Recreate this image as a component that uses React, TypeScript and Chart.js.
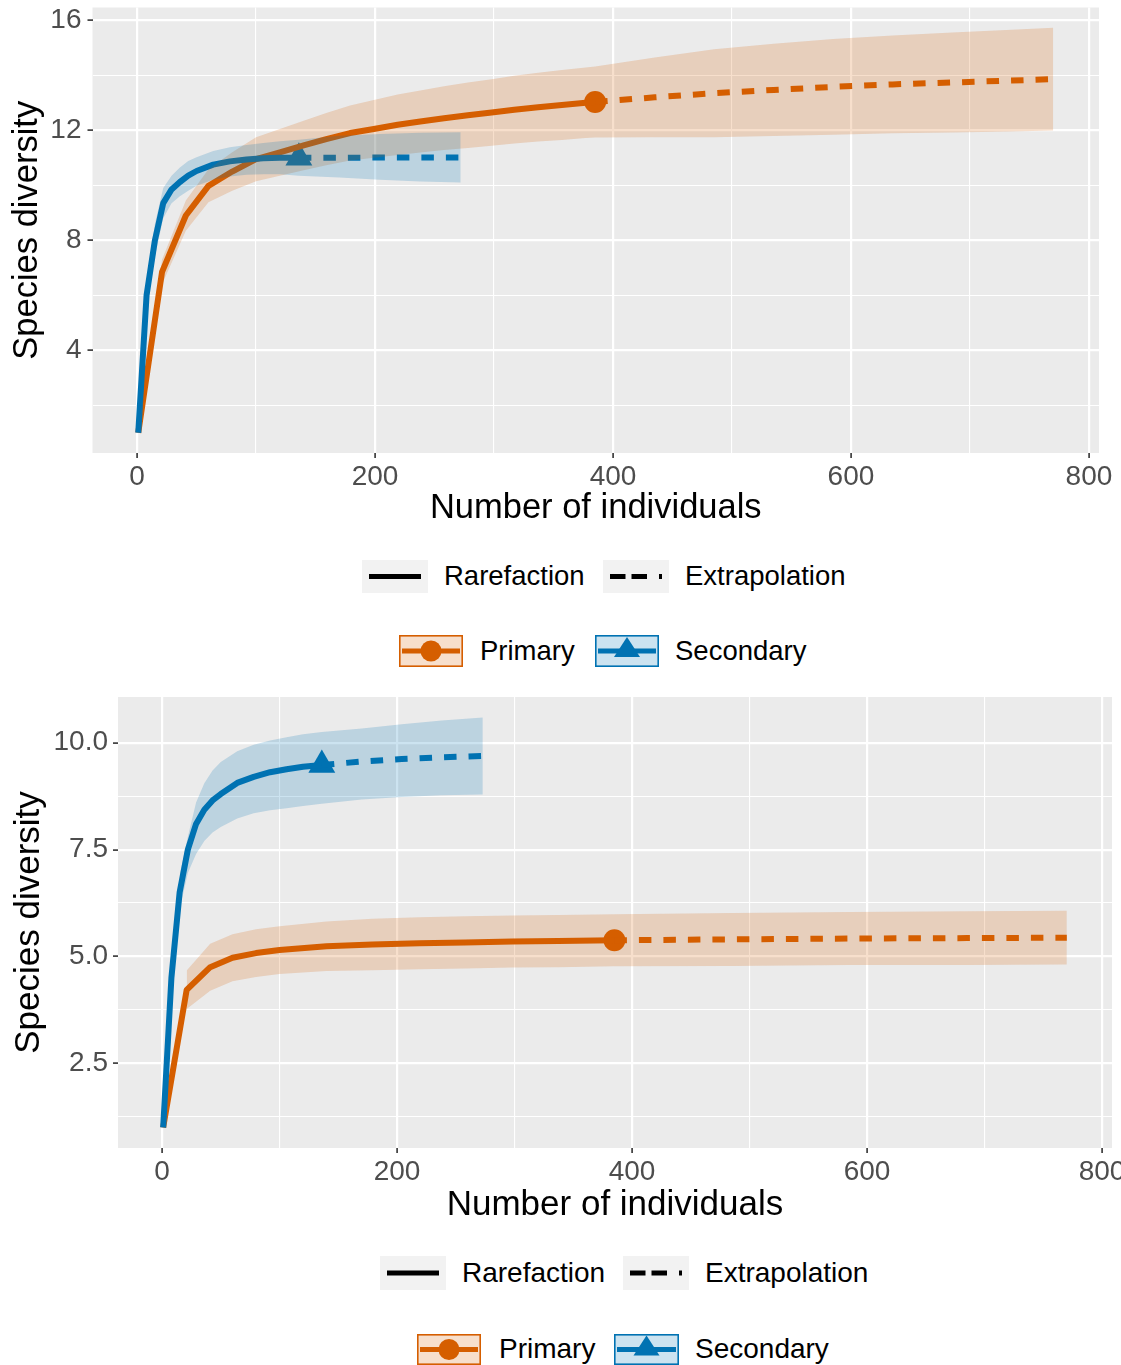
import React, { useEffect, useRef } from "react";
import { Chart, registerables } from "chart.js";

Chart.register(...registerables);

const FONT = '"Liberation Sans", Arial, Helvetica, sans-serif';
const PRIMARY = "#D55E00";
const SECONDARY = "#0072B2";
const PRIMARY_BAND = "rgba(213,94,0,0.2)";
const SECONDARY_BAND = "rgba(0,114,178,0.2)";

// ---------- Axis ticks ----------
const xTicks = [0, 100, 200, 300, 400, 500, 600, 700, 800];
const xMajor = [0, 200, 400, 600, 800];
const topYTicks = [2, 4, 6, 8, 10, 12, 14, 16];
const topYMajor = [4, 8, 12, 16];
const botYTicks = [1.25, 2.5, 3.75, 5, 6.25, 7.5, 8.75, 10];
const botYMajor = [2.5, 5, 7.5, 10];

// ---------- Top chart: Primary ----------
const topPrimaryRareX = [1, 21, 41, 60, 80, 100, 120, 140, 159, 179, 199, 219, 238, 258, 278, 298, 317, 337, 357, 377, 385];
const topPrimaryRareY = [1, 6.85, 8.9, 9.98, 10.5, 10.95, 11.2, 11.45, 11.68, 11.9, 12.05, 12.2, 12.32, 12.44, 12.55, 12.65, 12.75, 12.84, 12.92, 13.0, 13.03];
const topPrimaryExtX = [385, 435, 485, 535, 585, 635, 685, 735, 770];
const topPrimaryExtY = [13.03, 13.2, 13.35, 13.47, 13.58, 13.67, 13.74, 13.81, 13.86];
const topPrimaryBandX = [1, 21, 41, 60, 80, 100, 120, 140, 159, 179, 199, 219, 238, 258, 278, 298, 317, 337, 357, 377, 385, 435, 485, 535, 585, 635, 685, 735, 770];
const topPrimaryBandHi = [1, 7.3, 9.45, 10.58, 11.2, 11.75, 12.05, 12.35, 12.63, 12.9, 13.1, 13.3, 13.45, 13.6, 13.74, 13.86, 13.98, 14.09, 14.19, 14.28, 14.32, 14.65, 14.95, 15.15, 15.32, 15.45, 15.56, 15.66, 15.73];
const topPrimaryBandLo = [1, 6.4, 8.35, 9.38, 9.8, 10.15, 10.35, 10.55, 10.73, 10.9, 11.0, 11.1, 11.19, 11.28, 11.36, 11.44, 11.52, 11.59, 11.65, 11.72, 11.74, 11.75, 11.75, 11.79, 11.84, 11.89, 11.92, 11.96, 11.99];

// ---------- Top chart: Secondary ----------
const topSecondaryRareX = [1, 8, 15, 22, 29, 36, 43, 50, 64, 78, 92, 106, 120, 136];
const topSecondaryRareY = [1, 6.0, 8.0, 9.35, 9.85, 10.12, 10.35, 10.52, 10.75, 10.87, 10.94, 10.98, 11.0, 11.0];
const topSecondaryExtX = [136, 170, 204, 238, 272];
const topSecondaryExtY = [11.0, 11.0, 11.01, 11.01, 11.01];
const topSecondaryBandX = [1, 8, 15, 22, 29, 36, 43, 50, 64, 78, 92, 106, 120, 136, 170, 204, 238, 272];
const topSecondaryBandHi = [1, 6.5, 8.6, 9.9, 10.35, 10.65, 10.88, 11.02, 11.25, 11.38, 11.47, 11.54, 11.6, 11.66, 11.8, 11.87, 11.91, 11.93];
const topSecondaryBandLo = [1, 5.5, 7.4, 8.8, 9.35, 9.6, 9.8, 9.98, 10.2, 10.32, 10.38, 10.4, 10.4, 10.35, 10.28, 10.2, 10.14, 10.1];

// ---------- Bottom chart: Primary ----------
const botPrimaryRareX = [1, 21, 41, 60, 80, 100, 140, 179, 219, 258, 298, 337, 385];
const botPrimaryRareY = [1, 4.22, 4.75, 4.97, 5.08, 5.15, 5.24, 5.28, 5.31, 5.33, 5.35, 5.36, 5.38];
const botPrimaryExtX = [385, 485, 585, 685, 770];
const botPrimaryExtY = [5.38, 5.4, 5.42, 5.43, 5.44];
const botPrimaryBandX = [21, 41, 60, 80, 100, 140, 179, 219, 258, 298, 337, 385, 485, 585, 685, 770];
const botPrimaryBandHi = [4.67, 5.3, 5.52, 5.64, 5.71, 5.82, 5.88, 5.92, 5.94, 5.96, 5.97, 5.99, 6.02, 6.04, 6.06, 6.07];
const botPrimaryBandLo = [3.77, 4.2, 4.42, 4.52, 4.59, 4.66, 4.68, 4.7, 4.72, 4.74, 4.75, 4.77, 4.78, 4.8, 4.8, 4.81];

// ---------- Bottom chart: Secondary ----------
const botSecondaryRareX = [1, 8, 15, 22, 29, 36, 43, 50, 64, 78, 92, 106, 120, 136];
const botSecondaryRareY = [1, 4.5, 6.5, 7.5, 8.1, 8.43, 8.65, 8.8, 9.06, 9.2, 9.31, 9.38, 9.44, 9.48];
const botSecondaryExtX = [136, 170, 204, 238, 273];
const botSecondaryExtY = [9.48, 9.56, 9.62, 9.66, 9.69];
const botSecondaryBandX = [15, 22, 29, 36, 43, 50, 64, 78, 92, 106, 120, 136, 170, 204, 238, 273];
const botSecondaryBandHi = [6.9, 7.8, 8.6, 9.05, 9.35, 9.55, 9.8, 9.95, 10.05, 10.13, 10.2, 10.25, 10.33, 10.43, 10.52, 10.59];
const botSecondaryBandLo = [6.1, 6.95, 7.4, 7.7, 7.9, 8.03, 8.23, 8.35, 8.42, 8.47, 8.52, 8.57, 8.67, 8.73, 8.77, 8.79];

type Series = {
  rareX: number[]; rareY: number[]; extX: number[]; extY: number[];
  bandX: number[]; bandHi: number[]; bandLo: number[];
};

const pts = (xs: number[], ys: number[]) => xs.map((x, i) => ({ x, y: ys[i] }));

function expandRange(vals: number[]) {
  const mn = Math.min(...vals);
  const mx = Math.max(...vals);
  const pad = (mx - mn) * 0.05;
  return [mn - pad, mx + pad];
}

type PanelSpec = {
  width: number; height: number;
  padTop: number; padRight: number;
  yAxisWidth: number; xAxisHeight: number;
  primary: Series; secondary: Series;
  yTicks: number[]; yMajor: number[]; yFmt: (v: number) => string;
  tickSize: number; titleSize: number;
  yTickPad: number; yTitlePad: number; xTitlePad: number;
};

function buildConfig(s: PanelSpec): any {
  const p = s.primary, q = s.secondary;
  const allX = [...p.bandX, ...p.rareX, ...p.extX, ...q.bandX, ...q.rareX, ...q.extX];
  const allY = [...p.bandHi, ...p.bandLo, ...p.rareY, ...p.extY, ...q.bandHi, ...q.bandLo, ...q.rareY, ...q.extY];
  const [xMin, xMax] = expandRange(allX);
  const [yMin, yMax] = expandRange(allY);

  const band = (data: any[], color: string, fill: any) => ({
    data, borderColor: "rgba(0,0,0,0)", borderWidth: 0, pointRadius: 0,
    backgroundColor: color, fill, tension: 0,
  });
  const line = (data: any[], color: string, dashed: boolean) => ({
    data, borderColor: color, borderWidth: 6, borderDash: dashed ? [12.5, 12] : [],
    borderCapStyle: "butt", borderJoinStyle: "round", pointRadius: 0, fill: false, tension: 0,
  });
  const marker = (x: number, y: number, color: string, style: string, r: number) => ({
    data: [{ x, y }], showLine: false, pointStyle: style, pointRadius: r,
    pointBackgroundColor: color, pointBorderColor: color, pointBorderWidth: 0,
    borderColor: color, backgroundColor: color, fill: false,
  });

  const datasets = [
    band(pts(q.bandX, q.bandLo), SECONDARY_BAND, false),
    band(pts(q.bandX, q.bandHi), SECONDARY_BAND, "-1"),
    band(pts(p.bandX, p.bandLo), PRIMARY_BAND, false),
    band(pts(p.bandX, p.bandHi), PRIMARY_BAND, "-1"),
    line(pts(q.extX, q.extY), SECONDARY, true),
    line(pts(q.rareX, q.rareY), SECONDARY, false),
    line(pts(p.extX, p.extY), PRIMARY, true),
    line(pts(p.rareX, p.rareY), PRIMARY, false),
    marker(q.rareX[q.rareX.length - 1], q.rareY[q.rareY.length - 1], SECONDARY, "triangle", 15.5),
    marker(p.rareX[p.rareX.length - 1], p.rareY[p.rareY.length - 1], PRIMARY, "circle", 11),
  ];

  const isMajor = (list: number[], v: number) => list.some((m) => Math.abs(m - v) < 1e-9);

  const panelBg = {
    id: "panelBg",
    beforeDraw(chart: any) {
      const { ctx, chartArea } = chart;
      ctx.save();
      ctx.fillStyle = "#EBEBEB";
      ctx.fillRect(chartArea.left, chartArea.top, chartArea.right - chartArea.left, chartArea.bottom - chartArea.top);
      ctx.restore();
    },
  };

  return {
    type: "line",
    data: { datasets },
    plugins: [panelBg],
    options: {
      responsive: false,
      animation: false,
      events: [],
      devicePixelRatio: 1,
      layout: { autoPadding: false, padding: { top: s.padTop, right: s.padRight, left: 0, bottom: 0 } },
      plugins: { legend: { display: false }, tooltip: { enabled: false }, title: { display: false } },
      scales: {
        x: {
          type: "linear", min: xMin, max: xMax,
          afterBuildTicks: (a: any) => { a.ticks = xTicks.map((v) => ({ value: v })); },
          afterFit: (a: any) => { a.height = s.xAxisHeight; a.paddingLeft = 0; a.paddingRight = 0; },
          border: { display: false },
          grid: {
            color: "#FFFFFF",
            lineWidth: (c: any) => (c.tick && isMajor(xMajor, c.tick.value) ? 2.2 : 1.1),
            drawTicks: true, tickLength: 5,
            tickColor: (c: any) => (c.tick && isMajor(xMajor, c.tick.value) ? "#333333" : "rgba(0,0,0,0)"),
            tickWidth: 1.6,
          },
          ticks: {
            autoSkip: false, maxRotation: 0, minRotation: 0, padding: 2, color: "#4D4D4D",
            font: { family: FONT, size: s.tickSize },
            callback: (v: any) => (isMajor(xMajor, Number(v)) ? String(v) : ""),
          },
          title: {
            display: true, text: "Number of individuals", color: "#000000",
            font: { family: FONT, size: s.titleSize }, padding: { top: 0, bottom: s.xTitlePad },
          },
        },
        y: {
          type: "linear", min: yMin, max: yMax,
          afterBuildTicks: (a: any) => { a.ticks = s.yTicks.map((v) => ({ value: v })); },
          afterFit: (a: any) => { a.width = s.yAxisWidth; a.paddingTop = 0; a.paddingBottom = 0; },
          border: { display: false },
          grid: {
            color: "#FFFFFF",
            lineWidth: (c: any) => (c.tick && isMajor(s.yMajor, c.tick.value) ? 2.2 : 1.1),
            drawTicks: true, tickLength: 5,
            tickColor: (c: any) => (c.tick && isMajor(s.yMajor, c.tick.value) ? "#333333" : "rgba(0,0,0,0)"),
            tickWidth: 1.6,
          },
          ticks: {
            autoSkip: false, padding: s.yTickPad, color: "#4D4D4D",
            font: { family: FONT, size: s.tickSize },
            callback: (v: any) => (isMajor(s.yMajor, Number(v)) ? s.yFmt(Number(v)) : ""),
          },
          title: {
            display: true, text: "Species diversity", color: "#000000",
            font: { family: FONT, size: s.titleSize }, padding: { top: s.yTitlePad, bottom: 0 },
          },
        },
      },
    },
  };
}

function Panel({ spec, top }: { spec: PanelSpec; top: number }) {
  const ref = useRef<HTMLCanvasElement | null>(null);
  useEffect(() => {
    if (!ref.current) return;
    const chart = new Chart(ref.current, buildConfig(spec));
    return () => chart.destroy();
  }, []);
  return (
    <div style={{ position: "absolute", left: 0, top, width: spec.width, height: spec.height }}>
      <canvas ref={ref} width={spec.width} height={spec.height} style={{ display: "block" }} />
    </div>
  );
}

function Key({ left, cy, w, h, kind }: { left: number; cy: number; w: number; h: number; kind: string }) {
  const mid = h / 2;
  let body: any = null;
  if (kind === "solid") {
    body = (
      <>
        <rect x={0} y={0} width={w} height={h} fill="#F2F2F2" />
        <rect x={7} y={mid - 2.5} width={w - 14} height={5} fill="#000" />
      </>
    );
  } else if (kind === "dashed") {
    body = (
      <>
        <rect x={0} y={0} width={w} height={h} fill="#F2F2F2" />
        <rect x={7} y={mid - 2.5} width={15.5} height={5} fill="#000" />
        <rect x={28.5} y={mid - 2.5} width={15.5} height={5} fill="#000" />
        <rect x={56} y={mid - 2.5} width={3} height={5} fill="#000" />
      </>
    );
  } else {
    const color = kind === "primary" ? PRIMARY : SECONDARY;
    const fill = kind === "primary" ? PRIMARY_BAND : SECONDARY_BAND;
    const cx = w / 2;
    body = (
      <>
        <rect x={0} y={0} width={w} height={h} fill="#FFFFFF" />
        <rect x={3} y={mid - 2.5} width={w - 6} height={5} fill={color} />
        {kind === "primary" ? (
          <circle cx={cx} cy={mid} r={10.5} fill={color} />
        ) : (
          <polygon points={`${cx},${mid - 14} ${cx - 13},${mid + 6} ${cx + 13},${mid + 6}`} fill={color} />
        )}
        <rect x={0.8} y={0.8} width={w - 1.6} height={h - 1.6} fill={fill} stroke={color} strokeWidth={1.6} />
      </>
    );
  }
  return (
    <svg style={{ position: "absolute", left, top: cy - h / 2 }} width={w} height={h}>
      {body}
    </svg>
  );
}

function Label({ left, cy, text, size }: { left: number; cy: number; text: string; size: number }) {
  return (
    <div
      style={{
        position: "absolute", left, top: cy - 17, height: 34, lineHeight: "34px",
        fontSize: size, fontFamily: FONT, color: "#000", whiteSpace: "nowrap",
      }}
    >
      {text}
    </div>
  );
}

const topSpec: PanelSpec = {
  width: 1121, height: 530, padTop: 7.5, padRight: 22,
  yAxisWidth: 92.5, xAxisHeight: 77,
  primary: { rareX: topPrimaryRareX, rareY: topPrimaryRareY, extX: topPrimaryExtX, extY: topPrimaryExtY, bandX: topPrimaryBandX, bandHi: topPrimaryBandHi, bandLo: topPrimaryBandLo },
  secondary: { rareX: topSecondaryRareX, rareY: topSecondaryRareY, extX: topSecondaryExtX, extY: topSecondaryExtY, bandX: topSecondaryBandX, bandHi: topSecondaryBandHi, bandLo: topSecondaryBandLo },
  yTicks: topYTicks, yMajor: topYMajor, yFmt: (v) => String(v),
  tickSize: 28, titleSize: 34.5, yTickPad: 6, yTitlePad: 7, xTitlePad: 1,
};

const botSpec: PanelSpec = {
  width: 1121, height: 540, padTop: 7, padRight: 9,
  yAxisWidth: 118, xAxisHeight: 82,
  primary: { rareX: botPrimaryRareX, rareY: botPrimaryRareY, extX: botPrimaryExtX, extY: botPrimaryExtY, bandX: botPrimaryBandX, bandHi: botPrimaryBandHi, bandLo: botPrimaryBandLo },
  secondary: { rareX: botSecondaryRareX, rareY: botSecondaryRareY, extX: botSecondaryExtX, extY: botSecondaryExtY, bandX: botSecondaryBandX, bandHi: botSecondaryBandHi, bandLo: botSecondaryBandLo },
  yTicks: botYTicks, yMajor: botYMajor, yFmt: (v) => v.toFixed(1),
  tickSize: 28, titleSize: 35, yTickPad: 5, yTitlePad: 8, xTitlePad: 4,
};

export default function App() {
  return (
    <div style={{ position: "absolute", left: 0, top: 0, width: 1121, height: 1365, background: "#FFFFFF", overflow: "hidden", fontFamily: FONT }}>
      <Panel spec={topSpec} top={0} />
      {/* top legend */}
      <Key left={362} cy={576} w={66} h={33} kind="solid" />
      <Label left={444} cy={576} text="Rarefaction" size={27.5} />
      <Key left={603} cy={576} w={66} h={33} kind="dashed" />
      <Label left={685} cy={576} text="Extrapolation" size={27.5} />
      <Key left={399} cy={651} w={64} h={32} kind="primary" />
      <Label left={480} cy={651} text="Primary" size={27.5} />
      <Key left={595} cy={651} w={64} h={32} kind="secondary" />
      <Label left={675} cy={651} text="Secondary" size={27.5} />

      <Panel spec={botSpec} top={690} />
      {/* bottom legend */}
      <Key left={380} cy={1273} w={66} h={34} kind="solid" />
      <Label left={462} cy={1273} text="Rarefaction" size={28} />
      <Key left={623} cy={1273} w={66} h={34} kind="dashed" />
      <Label left={705} cy={1273} text="Extrapolation" size={28} />
      <Key left={417} cy={1349} w={64} h={31} kind="primary" />
      <Label left={499} cy={1349} text="Primary" size={28} />
      <Key left={614} cy={1349} w={65} h={31} kind="secondary" />
      <Label left={695} cy={1349} text="Secondary" size={28} />
    </div>
  );
}
